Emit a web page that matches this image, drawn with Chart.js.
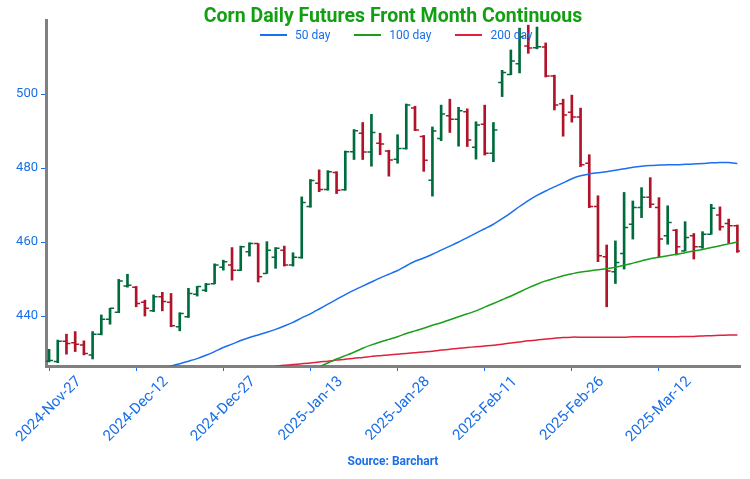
<!DOCTYPE html>
<html>
<head>
<meta charset="utf-8">
<script src="https://cdn.jsdelivr.net/npm/chart.js"></script>
<style>
  html, body { margin: 0; padding: 0; background: #fff; }
  .wrap { position: relative; width: 750px; height: 479px; }
  #legend { position: absolute; left: 260px; top: 27px; display: flex; font-family: Roboto, sans-serif; font-size: 12px; color: #1a6fe8; line-height: 16px; }
  #legend .item { display: flex; align-items: center; margin-right: 24px; }
  #legend .swatch { width: 27px; height: 2px; margin-right: 8px; }
</style>
</head>
<body>
<div class="wrap">
  <canvas id="myChart" width="750" height="479"></canvas>
  <div id="legend"></div>
</div>
<script>
// trading days
const dates = [
  '2024-Nov-27','2024-Nov-29','2024-Dec-02','2024-Dec-03','2024-Dec-04','2024-Dec-05','2024-Dec-06','2024-Dec-09','2024-Dec-10','2024-Dec-11',
  '2024-Dec-12','2024-Dec-13','2024-Dec-16','2024-Dec-17','2024-Dec-18','2024-Dec-19','2024-Dec-20','2024-Dec-23','2024-Dec-24','2024-Dec-26',
  '2024-Dec-27','2024-Dec-30','2024-Dec-31','2025-Jan-02','2025-Jan-03','2025-Jan-06','2025-Jan-07','2025-Jan-08','2025-Jan-09','2025-Jan-10',
  '2025-Jan-13','2025-Jan-14','2025-Jan-15','2025-Jan-16','2025-Jan-17','2025-Jan-21','2025-Jan-22','2025-Jan-23','2025-Jan-24','2025-Jan-27',
  '2025-Jan-28','2025-Jan-29','2025-Jan-30','2025-Jan-31','2025-Feb-03','2025-Feb-04','2025-Feb-05','2025-Feb-06','2025-Feb-07','2025-Feb-10',
  '2025-Feb-11','2025-Feb-12','2025-Feb-13','2025-Feb-14','2025-Feb-18','2025-Feb-19','2025-Feb-20','2025-Feb-21','2025-Feb-24','2025-Feb-25',
  '2025-Feb-26','2025-Feb-27','2025-Feb-28','2025-Mar-03','2025-Mar-04','2025-Mar-05','2025-Mar-06','2025-Mar-07','2025-Mar-10','2025-Mar-11',
  '2025-Mar-12','2025-Mar-13','2025-Mar-14','2025-Mar-17','2025-Mar-18','2025-Mar-19','2025-Mar-20','2025-Mar-21','2025-Mar-24','2025-Mar-25'
];

const open = [
  427.8,427.7,433.2,432.8,432.2,429.5,435.1,439.1,441.0,448.1,
  447.8,443.7,441.4,445.2,443.7,437.1,439.8,445.9,447.0,448.7,
  453.2,453.8,452.4,457.4,459.6,451.5,455.9,457.8,453.8,455.8,
  469.6,475.9,474.2,478.8,474.1,484.4,489.4,484.3,486.7,484.6,
  482.4,485.3,496.2,488.5,476.7,488.0,494.1,493.2,495.2,485.6,
  491.8,484.0,503.1,505.3,508.2,513.0,512.5,512.7,504.9,497.4,
  495.1,493.8,481.3,469.6,456.0,452.0,456.9,464.8,469.3,472.1,
  469.3,461.7,463.2,457.6,461.7,458.7,462.1,467.3,465.0,464.4
];
const high = [
  431.0,433.5,435.1,435.8,433.3,435.8,440.3,442.1,449.9,451.3,
  448.0,444.3,445.7,446.4,446.1,440.9,447.5,448.0,448.8,454.1,
  455.1,458.5,458.9,459.8,459.6,460.1,458.5,458.9,457.1,472.2,
  476.9,479.5,479.3,479.0,484.6,490.4,492.3,494.5,489.4,484.8,
  489.0,497.3,496.7,488.8,491.1,497.0,498.6,496.4,496.0,492.5,
  497.0,492.3,506.4,511.9,517.8,518.6,518.1,513.8,505.1,498.6,
  499.7,496.2,483.6,472.5,459.2,460.3,473.4,471.1,474.7,477.4,
  472.0,469.8,463.4,465.5,462.3,462.8,470.2,469.5,466.2,464.6
];
const low = [
  427.6,427.4,429.7,430.4,429.5,428.4,434.9,437.8,440.9,447.8,
  442.5,440.0,441.2,441.4,437.1,436.0,439.6,445.4,446.6,448.7,
  452.4,449.7,452.3,456.2,449.2,451.5,452.9,453.5,453.5,455.6,
  469.4,473.6,474.0,473.1,474.0,482.3,482.3,480.5,483.6,477.8,
  481.3,485.1,490.1,479.1,472.4,487.4,489.6,485.9,485.8,482.4,
  483.5,481.7,499.3,505.2,505.7,511.0,512.2,504.6,495.7,488.6,
  492.4,480.4,469.3,454.7,442.5,448.8,452.7,460.8,466.6,469.3,
  456.0,459.4,456.5,457.6,455.4,458.3,462.1,463.2,459.6,457.2
];
const close = [
  428.0,433.2,432.6,432.4,429.9,435.1,439.1,442.1,449.5,448.3,
  443.4,442.1,445.2,443.9,437.4,440.7,446.1,448.0,448.6,453.8,
  454.7,452.4,458.7,459.6,450.6,457.8,458.3,453.8,455.9,470.7,
  476.6,474.2,479.0,474.0,484.4,490.1,484.3,489.6,486.5,482.2,
  485.3,497.0,490.3,482.1,490.0,494.6,493.2,495.5,487.6,491.6,
  484.0,490.3,505.8,508.9,515.5,512.4,512.8,504.9,497.0,494.3,
  493.8,480.9,469.6,456.3,452.2,454.5,463.9,469.3,472.1,470.2,
  460.8,465.3,458.7,461.2,458.7,462.1,469.1,464.1,464.4,457.6
];

const ma50 = [
  null,null,null,null,null,null,null,null,null,null,
  null,null,null,425.9,426.5,427.1,427.8,428.5,429.4,430.4,
  431.5,432.4,433.4,434.2,434.9,435.6,436.4,437.3,438.3,439.5,
  440.6,441.9,443.2,444.5,445.8,447.0,448.1,449.2,450.3,451.3,
  452.3,453.6,454.8,455.7,456.7,457.8,458.9,460.0,461.2,462.4,
  463.6,464.8,466.3,467.9,469.6,471.2,472.6,473.8,474.9,476.0,
  477.1,477.9,478.4,478.7,479.0,479.4,479.8,480.2,480.5,480.7,
  480.8,480.9,480.9,481.0,481.1,481.2,481.4,481.5,481.5,481.2
];
const ma100 = [
  null,null,null,null,null,null,null,null,null,null,
  null,null,null,null,null,null,null,null,null,null,
  null,null,null,null,null,null,null,null,null,null,
  null,426.3,427.3,428.4,429.3,430.2,431.3,432.2,433.0,433.7,
  434.4,435.3,436.0,436.7,437.5,438.2,439.0,439.8,440.6,441.4,
  442.4,443.4,444.4,445.4,446.5,447.6,448.6,449.5,450.2,450.9,
  451.4,451.9,452.2,452.5,452.8,453.2,453.7,454.3,454.9,455.5,
  455.9,456.3,456.7,457.1,457.6,458.0,458.5,459.0,459.5,460.0
];
const ma200 = [
  null,null,null,null,null,null,null,null,null,null,
  null,null,null,null,null,null,null,null,null,null,
  null,null,null,null,null,null,426.4,426.7,426.9,427.1,
  427.3,427.6,427.8,428.1,428.3,428.6,428.8,429.1,429.3,429.5,
  429.7,429.9,430.1,430.3,430.5,430.8,431.0,431.3,431.5,431.7,
  431.9,432.1,432.4,432.7,433.0,433.3,433.5,433.8,434.0,434.2,
  434.3,434.3,434.3,434.3,434.3,434.3,434.3,434.4,434.4,434.4,
  434.4,434.4,434.4,434.5,434.5,434.6,434.7,434.8,434.9,434.9
];

const upColor = '#006b3c';
const downColor = '#b0142a';
const blueText = '#1a6fe8';
const barColors = close.map((c, i) => c >= open[i] ? upColor : downColor);

function toPoints(arr) {
  return arr.map((v, i) => ({x: i, y: v})).filter(p => p.y !== null);
}

// open / close ticks of each OHLC bar
const ohlcTicks = {
  id: 'ohlcTicks',
  afterDatasetDraw(chart, args) {
    if (args.index !== 0) return;
    const ctx = chart.ctx, xs = chart.scales.x, ys = chart.scales.y, a = chart.chartArea;
    ctx.save();
    ctx.beginPath();
    ctx.rect(a.left, a.top, a.right - a.left, a.bottom - a.top);
    ctx.clip();
    ctx.lineWidth = 1.5;
    for (let i = 0; i < dates.length; i++) {
      const x = xs.getPixelForValue(i);
      const yo = ys.getPixelForValue(open[i]);
      const yc = ys.getPixelForValue(close[i]);
      ctx.strokeStyle = barColors[i];
      ctx.beginPath();
      ctx.moveTo(x - 4, yo); ctx.lineTo(x, yo);
      ctx.moveTo(x, yc); ctx.lineTo(x + 4, yc);
      ctx.stroke();
    }
    ctx.restore();
  }
};

const ctx = document.getElementById('myChart');
const chart = new Chart(ctx, {
  type: 'bar',
  data: {
    datasets: [
      {
        label: 'OHLC',
        data: dates.map((d, i) => ({x: i, y: [low[i], high[i]]})),
        backgroundColor: barColors,
        barThickness: 2,
        order: 2
      },
      {
        type: 'line', label: '50 day', data: toPoints(ma50),
        borderColor: '#1a6ff0', backgroundColor: '#1a6ff0',
        borderWidth: 1.5, pointRadius: 0, tension: 0.2, order: 1
      },
      {
        type: 'line', label: '100 day', data: toPoints(ma100),
        borderColor: '#1a9e1a', backgroundColor: '#1a9e1a',
        borderWidth: 1.5, pointRadius: 0, tension: 0.2, order: 1
      },
      {
        type: 'line', label: '200 day', data: toPoints(ma200),
        borderColor: '#e0203c', backgroundColor: '#e0203c',
        borderWidth: 1.5, pointRadius: 0, tension: 0.2, order: 1
      }
    ]
  },
  options: {
    responsive: false,
    animation: false,
    layout: { padding: { left: 0, right: 10, top: 0, bottom: 0 } },
    plugins: {
      title: {
        display: true,
        fullSize: false,
        text: 'Corn Daily Futures Front Month Continuous',
        color: '#12a012',
        font: { family: 'Roboto', size: 19.5, weight: 'bold' },
        padding: { top: 5, bottom: -8.4 }
      },
      legend: { display: false },
      tooltip: { enabled: false }
    },
    scales: {
      x: {
        type: 'linear',
        offset: false,
        min: -0.35,
        max: 79.3,
        afterFit(scale) {
          scale.height = 113;
          scale.paddingLeft = 0;
          scale.paddingRight = 0;
        },
        ticks: {
          stepSize: 10,
          includeBounds: false,
          autoSkip: false,
          maxRotation: 45,
          minRotation: 45,
          labelOffset: 30,
          color: blueText,
          font: { family: 'Roboto', size: 15 },
          padding: 2,
          callback: v => dates[v] || ''
        },
        grid: { offset: false, drawOnChartArea: false, drawTicks: true, tickLength: 5, color: blueText },
        border: { color: '#808080', width: 3 },
        title: {
          display: true,
          text: 'Source: Barchart',
          color: blueText,
          font: { family: 'Roboto', size: 12, weight: 'bold' },
          padding: { top: 0, bottom: 10 }
        }
      },
      y: {
        min: 426.5,
        max: 520,
        afterFit(scale) { scale.width = 46; },
        afterBuildTicks(scale) { scale.ticks = scale.ticks.filter(t => t.value <= 500); },
        ticks: {
          stepSize: 20,
          includeBounds: false,
          color: blueText,
          font: { family: 'Roboto', size: 13 },
          padding: 3
        },
        grid: { drawOnChartArea: false, drawTicks: true, tickLength: 5, color: blueText },
        border: { color: '#808080', width: 3 }
      }
    }
  },
  plugins: [ohlcTicks]
});

// html legend built from the line datasets
const legendEl = document.getElementById('legend');
chart.data.datasets.filter(ds => ds.type === 'line').forEach(ds => {
  const item = document.createElement('div');
  item.className = 'item';
  const sw = document.createElement('span');
  sw.className = 'swatch';
  sw.style.background = ds.borderColor;
  const txt = document.createElement('span');
  txt.textContent = ds.label;
  item.appendChild(sw);
  item.appendChild(txt);
  legendEl.appendChild(item);
});
</script>
</body>
</html>
